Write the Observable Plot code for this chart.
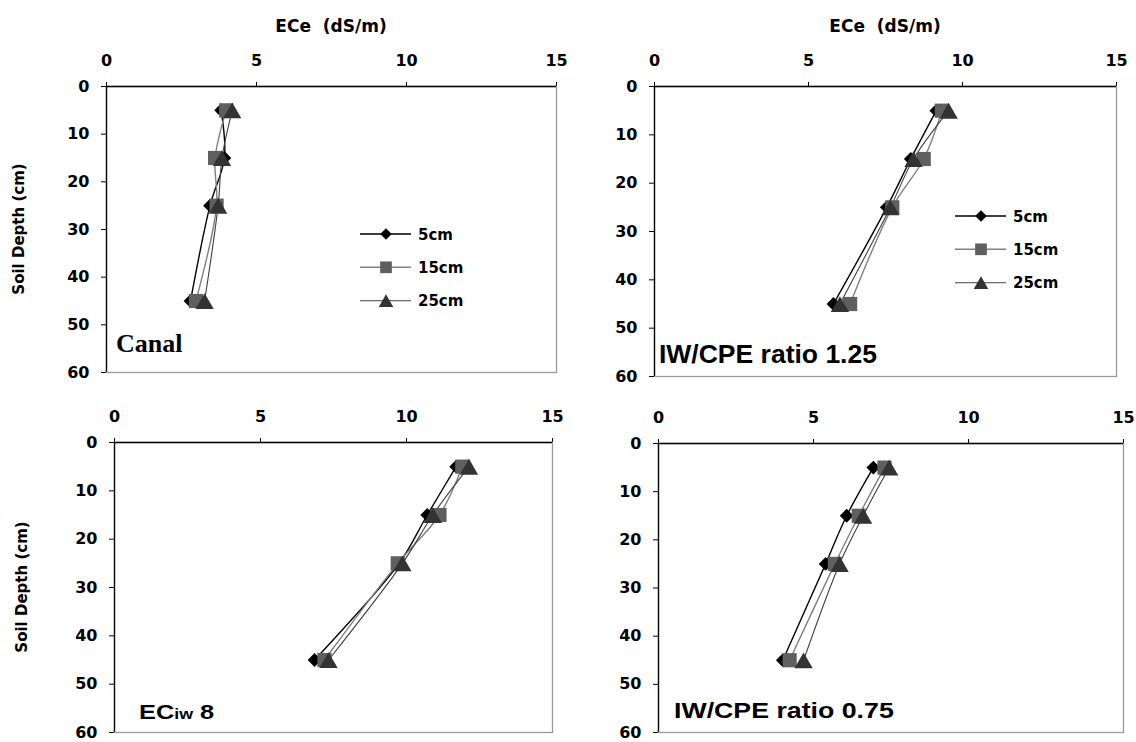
<!DOCTYPE html>
<html>
<head>
<meta charset="utf-8">
<script src="https://cdn.jsdelivr.net/npm/d3@7"></script>
<script src="https://cdn.jsdelivr.net/npm/@observablehq/plot@0.6"></script>
<style>
  html, body { margin: 0; padding: 0; background: #fff; }
  #root { position: relative; width: 1136px; height: 742px; overflow: hidden; background: #fff; }
  #root svg { position: absolute; }
</style>
</head>
<body>
<div id="root"></div>
<script>
// ---------- data ----------
const depths = [5, 15, 25, 45];                 // soil depth (cm)
const seriesNames = ["5cm", "15cm", "25cm"];
const xTicks = [0, 5, 10, 15];
const yTicks = [0, 10, 20, 30, 40, 50, 60];
const xTitle = "ECe  (dS/m)";
const yTitle = "Soil Depth (cm)";

// Canal
const canal5  = [3.82, 3.93, 3.45, 2.80];
const canal15 = [3.99, 3.62, 3.67, 2.98];
const canal25 = [4.19, 3.85, 3.72, 3.27];
// IW/CPE ratio 1.25
const ratio125_5  = [9.15, 8.32, 7.54, 5.81];
const ratio125_15 = [9.33, 8.74, 7.72, 6.35];
const ratio125_25 = [9.55, 8.41, 7.66, 6.02];
// ECiw 8
const eciw8_5  = [11.70, 10.71, 9.75, 6.85];
const eciw8_15 = [11.91, 11.13, 9.70, 7.19];
const eciw8_25 = [12.14, 10.90, 9.86, 7.33];
// IW/CPE ratio 0.75
const ratio075_5  = [6.93, 6.07, 5.39, 4.01];
const ratio075_15 = [7.29, 6.46, 5.69, 4.23];
const ratio075_25 = [7.44, 6.60, 5.84, 4.68];

// ---------- styles ----------
const lineColors = ["#000000", "#808080", "#404040"];
const lineWidths = [1.4, 1.4, 1.1];
const symbols = ["diamond2", "square", "triangle"];
const d3symbols = [d3.symbolDiamond2, d3.symbolSquare, d3.symbolTriangle];
const symbolFill = ["#000000", "#5f5f5f", "#333333"];
const symbolR = [6.2, 8.0, 6.8];       // plot markers
const symbolDy = [0, 0, 2.7];
const legendR = [5.2, 6.6, 5.4];       // legend markers
const legendDy = [0, 0, 2];

const panels = [
  {L: 106, T: 86,  R: 556,  B: 372, v: [canal5, canal15, canal25]},
  {L: 654, T: 86,  R: 1116, B: 376, v: [ratio125_5, ratio125_15, ratio125_25]},
  {L: 114, T: 442, R: 552,  B: 732, v: [eciw8_5, eciw8_15, eciw8_25]},
  {L: 658, T: 443, R: 1123, B: 732, v: [ratio075_5, ratio075_15, ratio075_25]}
];

const root = document.getElementById("root");
const ML = 90, MT = 40, MR = 12, MB = 12;

panels.forEach(p => {
  const rows = p.v.map((vals, s) => depths.map((d, i) => ({series: seriesNames[s], depth: d, ece: vals[i]})));
  const marks = [
    Plot.frame({stroke: "#999", strokeWidth: 1.3}),
    Plot.ruleY([0], {stroke: "#000", strokeWidth: 1.3}),
    Plot.ruleX([0], {stroke: "#000", strokeWidth: 1.3})
  ];
  rows.forEach((r, s) => marks.push(Plot.line(r, {x: "ece", y: "depth", stroke: lineColors[s], strokeWidth: lineWidths[s], curve: "catmull-rom"})));
  rows.forEach((r, s) => marks.push(Plot.dot(r, {x: "ece", y: "depth", symbol: symbols[s], r: symbolR[s], fill: symbolFill[s], stroke: "none", dy: symbolDy[s]})));
  const svg = Plot.plot({
    width: p.R - p.L + ML + MR,
    height: p.B - p.T + MT + MB,
    marginLeft: ML, marginTop: MT, marginRight: MR, marginBottom: MB,
    style: "font-family: 'DejaVu Sans', sans-serif; font-size: 16px; font-weight: bold; color: #000; background: transparent; overflow: visible;",
    x: {domain: [0, 15], ticks: xTicks, axis: "top", tickSize: 5, tickPadding: 16, label: null},
    y: {domain: [0, 60], reverse: true, ticks: yTicks, tickSize: 5, tickPadding: 12, label: null},
    marks
  });
  svg.style.left = (p.L - ML) + "px";
  svg.style.top = (p.T - MT) + "px";
  root.appendChild(svg);
});

// ---------- overlay: titles, legends, panel labels ----------
const ov = d3.select(root).append("svg")
  .attr("width", 1136).attr("height", 742)
  .style("left", "0px").style("top", "0px").style("pointer-events", "none");

// x titles (top panels)
[[331, 32], [885, 32]].forEach(([x, y]) => {
  ov.append("text").attr("x", x).attr("y", y).attr("text-anchor", "middle")
    .style("white-space", "pre")
    .attr("font-family", "DejaVu Sans").attr("font-size", 17).attr("font-weight", "bold")
    .text(xTitle);
});
// y titles (left panels)
[[19, 229], [22, 587]].forEach(([x, y]) => {
  ov.append("text").attr("transform", `translate(${x},${y}) rotate(-90)`)
    .attr("text-anchor", "middle").attr("dy", "0.35em")
    .attr("font-family", "DejaVu Sans").attr("font-size", 15).attr("font-weight", "bold")
    .text(yTitle);
});

// legends (top panels)
function legend(x0, rowsY) {
  seriesNames.forEach((name, s) => {
    const y = rowsY[s];
    ov.append("line").attr("x1", x0).attr("x2", x0 + 51).attr("y1", y).attr("y2", y)
      .attr("stroke", lineColors[s]).attr("stroke-width", lineWidths[s]);
    ov.append("path").attr("d", d3.symbol().type(d3symbols[s]).size(Math.PI * legendR[s] * legendR[s])())
      .attr("transform", `translate(${x0 + 26},${y + legendDy[s]})`).attr("fill", symbolFill[s]);
    ov.append("text").attr("x", x0 + 58).attr("y", y + 5.5)
      .attr("font-family", "DejaVu Sans").attr("font-size", 15).attr("font-weight", "bold")
      .text(name);
  });
}
legend(360, [234, 267.3, 300.7]);
legend(955, [216, 249.3, 282.7]);

// panel labels
ov.append("text").attr("x", 116).attr("y", 352)
  .attr("font-family", "Liberation Serif").attr("font-size", 26).attr("font-weight", "bold")
  .text("Canal");
ov.append("text").attr("x", 659).attr("y", 363)
  .attr("font-family", "Liberation Sans").attr("font-size", 26.5).attr("font-weight", "bold")
  .text("IW/CPE ratio 1.25");
const ec = ov.append("text").attr("transform", "translate(139,719) scale(1.27,1)")
  .attr("font-family", "Liberation Sans").attr("font-size", 20).attr("font-weight", "bold");
ec.append("tspan").text("EC");
ec.append("tspan").attr("font-size", 14).text("iw");
ec.append("tspan").style("white-space", "pre").text(" 8");
ov.append("text").attr("transform", "translate(674,718) scale(1.215,1)")
  .attr("font-family", "Liberation Sans").attr("font-size", 22).attr("font-weight", "bold")
  .text("IW/CPE ratio 0.75");
</script>
</body>
</html>
